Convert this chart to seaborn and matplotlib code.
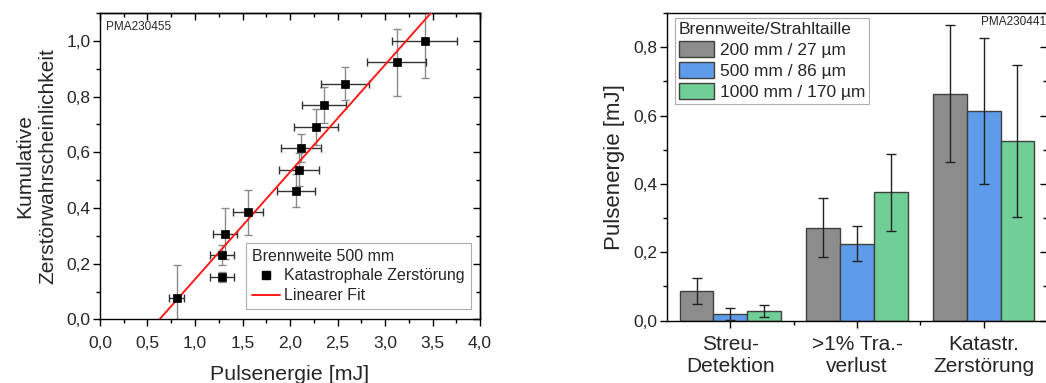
import numpy as np
import pandas as pd
import matplotlib
matplotlib.use("Agg")
import matplotlib.pyplot as plt
from matplotlib.ticker import MultipleLocator, FuncFormatter
from matplotlib.lines import Line2D
import seaborn as sns

# ---- left panel: cumulative damage probability vs. pulse energy ----
pulse_energy = [0.807, 1.28, 1.28, 1.316, 1.558, 2.06, 2.09, 2.116,
                2.277, 2.361, 2.579, 3.123, 3.418]
pulse_energy_err = [0.077, 0.126, 0.126, 0.13, 0.158, 0.20, 0.21, 0.21,
                    0.23, 0.233, 0.256, 0.31, 0.34]
cum_probability = [0.077, 0.154, 0.231, 0.308, 0.385, 0.462, 0.538, 0.615,
                   0.692, 0.769, 0.846, 0.923, 1.0]
cum_probability_err = [0.12, 0.018, 0.037, 0.092, 0.08, 0.06, 0.06, 0.05,
                       0.065, 0.065, 0.06, 0.12, 0.134]
fit_slope = 0.3848
fit_intercept = -0.2405

# ---- right panel: mean pulse energy per damage criterion ----
criteria = ["Streu-\nDetektion", ">1% Tra.-\nverlust", "Katastr.\nZerstörung"]
focus_setups = ["200 mm / 27 µm", "500 mm / 86 µm", "1000 mm / 170 µm"]
energy_200 = [0.087, 0.2725, 0.664]
energy_500 = [0.0186, 0.2256, 0.613]
energy_1000 = [0.029, 0.376, 0.5265]
err_200 = [0.037, 0.085, 0.20]
err_500 = [0.018, 0.051, 0.213]
err_1000 = [0.018, 0.113, 0.222]
bar_colors = ["#8c8c8c", "#5e9be8", "#6fcf97"]

sns.set_theme(style="white")
plt.rcParams["font.family"] = ["Liberation Sans", "DejaVu Sans"]
plt.rcParams["axes.edgecolor"] = "black"
plt.rcParams["axes.linewidth"] = 1.0

comma = FuncFormatter(lambda v, p: f"{v:.1f}".replace(".", ","))

fig = plt.figure(figsize=(10.46, 3.83), dpi=100)
ax1 = fig.add_axes([0.0956, 0.1658, 0.3633, 0.8003])
ax2 = fig.add_axes([0.6377, 0.1627, 0.3633, 0.8034])

# left panel
df_pts = pd.DataFrame({"E": pulse_energy, "P": cum_probability})
ax1.errorbar(pulse_energy, cum_probability, yerr=cum_probability_err,
             fmt="none", ecolor="#8a8a8a", elinewidth=1.0, capsize=3,
             capthick=1.0, zorder=2)
ax1.errorbar(pulse_energy, cum_probability, xerr=pulse_energy_err,
             fmt="none", ecolor="#333333", elinewidth=1.0, capsize=3,
             capthick=1.0, zorder=2)
fit_x = np.linspace(-fit_intercept / fit_slope, 4.0, 50)
df_fit = pd.DataFrame({"E": fit_x, "P": fit_slope * fit_x + fit_intercept})
sns.lineplot(data=df_fit, x="E", y="P", ax=ax1, color="#ff1a1a",
             linewidth=1.4, zorder=3)
sns.scatterplot(data=df_pts, x="E", y="P", ax=ax1, marker="s", s=28,
                color="black", edgecolor="black", linewidth=0.5, zorder=4)

ax1.set_xlim(0, 4.0)
ax1.set_ylim(0, 1.1)
ax1.xaxis.set_major_locator(MultipleLocator(0.5))
ax1.xaxis.set_minor_locator(MultipleLocator(0.25))
ax1.yaxis.set_major_locator(MultipleLocator(0.2))
ax1.yaxis.set_minor_locator(MultipleLocator(0.1))
ax1.xaxis.set_major_formatter(comma)
ax1.yaxis.set_major_formatter(comma)
ax1.tick_params(which="both", direction="out", bottom=True, left=True,
                labelsize=12.5, color="black", pad=2)
ax1.tick_params(axis="x", pad=7)
ax1.tick_params(which="major", length=5, width=1)
ax1.tick_params(which="minor", length=3, width=1)
for side in ("top", "right"):
    sec = ax1.secondary_xaxis("top") if side == "top" else ax1.secondary_yaxis("right")
    axis = sec.xaxis if side == "top" else sec.yaxis
    axis.set_major_locator(MultipleLocator(0.5 if side == "top" else 0.2))
    axis.set_minor_locator(MultipleLocator(0.25 if side == "top" else 0.1))
    sec.tick_params(which="both", direction="in", labeltop=False,
                    labelright=False, color="black")
    sec.tick_params(which="major", length=5, width=1)
    sec.tick_params(which="minor", length=3, width=1)
ax1.set_xlabel("Pulsenergie [mJ]", fontsize=15.4, labelpad=10)
ax1.set_ylabel("Kumulative\nZerstörwahrscheinlichkeit", fontsize=15,
               labelpad=6, linespacing=1.3)
ax1.text(0.015, 0.975, "PMA230455", transform=ax1.transAxes, fontsize=8.5,
         ha="left", va="top")

leg_handles = [Line2D([], [], marker="s", color="black", linestyle="none",
                      markersize=6),
               Line2D([], [], color="#ff1a1a", linewidth=1.4)]
leg1 = ax1.legend(leg_handles, ["Katastrophale Zerstörung", "Linearer Fit"],
                  title="Brennweite 500 mm", loc="lower right",
                  bbox_to_anchor=(0.975, 0.035), fontsize=11.5,
                  title_fontsize=11.5, frameon=True, fancybox=False,
                  edgecolor="#999999", handlelength=1.8, handletextpad=0.25,
                  borderpad=0.35, labelspacing=0.3, borderaxespad=0)
leg1._legend_box.align = "left"
leg1.get_frame().set_linewidth(0.8)

# right panel
df_bars = pd.DataFrame({
    "criterion": criteria * 3,
    "setup": np.repeat(focus_setups, 3),
    "energy": energy_200 + energy_500 + energy_1000,
})
sns.barplot(data=df_bars, x="criterion", y="energy", hue="setup",
            hue_order=focus_setups, palette=bar_colors, ax=ax2,
            errorbar=None, width=0.8, edgecolor="#404040", linewidth=1.0,
            saturation=1, legend=False)
for cont, errs in zip(ax2.containers, [err_200, err_500, err_1000]):
    xs = [b.get_x() + b.get_width() / 2 for b in cont]
    hs = [b.get_height() for b in cont]
    ax2.errorbar(xs, hs, yerr=errs, fmt="none", ecolor="#222222",
                 elinewidth=1.0, capsize=3.5, capthick=1.0, zorder=5)

ax2.set_xlim(-0.5, 2.5)
ax2.set_ylim(0, 0.9)
ax2.yaxis.set_major_locator(MultipleLocator(0.2))
ax2.yaxis.set_minor_locator(MultipleLocator(0.1))
ax2.yaxis.set_major_formatter(comma)
ax2.set_xticks([0.5, 1.5], minor=True)
ax2.tick_params(which="both", direction="out", bottom=True, left=True,
                color="black", pad=2)
ax2.tick_params(axis="y", labelsize=12.5)
ax2.tick_params(axis="x", labelsize=15, pad=5)
ax2.tick_params(which="major", length=5, width=1)
ax2.tick_params(which="minor", length=3, width=1)
sec2 = ax2.secondary_yaxis("right")
sec2.yaxis.set_major_locator(MultipleLocator(0.2))
sec2.yaxis.set_minor_locator(MultipleLocator(0.1))
sec2.tick_params(which="both", direction="in", labelright=False, color="black")
sec2.tick_params(which="major", length=5, width=1)
sec2.tick_params(which="minor", length=3, width=1)
for lab in ax2.get_xticklabels():
    lab.set_linespacing(1.2)
ax2.set_xlabel("")
ax2.set_ylabel("Pulsenergie [mJ]", fontsize=16, labelpad=6)
ax2.text(0.997, 0.99, "PMA230441", transform=ax2.transAxes, fontsize=8.5,
         ha="right", va="top")

bar_handles = [plt.Rectangle((0, 0), 1, 1, facecolor=c, edgecolor="#404040",
                             linewidth=1.0) for c in bar_colors]
leg2 = ax2.legend(bar_handles, focus_setups, title="Brennweite/Strahltaille",
                  loc="upper left", bbox_to_anchor=(0.02, 0.985), fontsize=12.5,
                  title_fontsize=12.5, frameon=True, fancybox=False,
                  edgecolor="#999999", handlelength=2.0, handleheight=1.0,
                  handletextpad=0.35, borderpad=0.25, labelspacing=0.25,
                  borderaxespad=0)
leg2._legend_box.align = "left"
leg2.get_frame().set_linewidth(0.8)

fig.savefig("out.png", dpi=100)
